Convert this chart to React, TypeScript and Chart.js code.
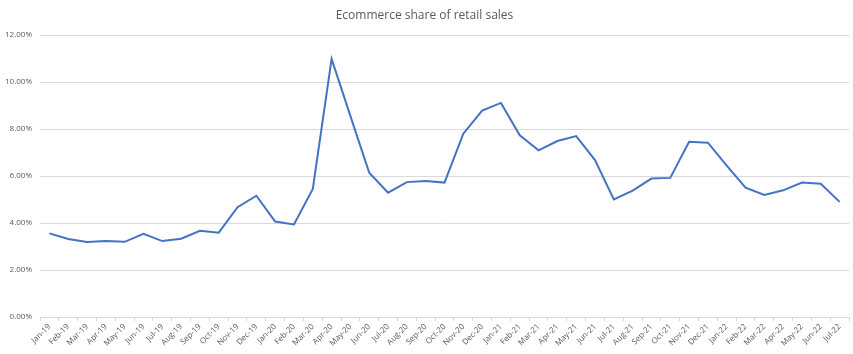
import React, { useEffect, useRef } from "react";
import { Chart, registerables } from "chart.js";

Chart.register(...registerables);

const months: string[] = [
  "Jan-19","Feb-19","Mar-19","Apr-19","May-19","Jun-19","Jul-19","Aug-19","Sep-19","Oct-19","Nov-19","Dec-19",
  "Jan-20","Feb-20","Mar-20","Apr-20","May-20","Jun-20","Jul-20","Aug-20","Sep-20","Oct-20","Nov-20","Dec-20",
  "Jan-21","Feb-21","Mar-21","Apr-21","May-21","Jun-21","Jul-21","Aug-21","Sep-21","Oct-21","Nov-21","Dec-21",
  "Jan-22","Feb-22","Mar-22","Apr-22","May-22","Jun-22","Jul-22",
];

const sharePct: number[] = [
  3.56, 3.32, 3.19, 3.23, 3.2, 3.54, 3.23, 3.33, 3.67, 3.59, 4.67, 5.16,
  4.06, 3.94, 5.45, 10.98, 8.55, 6.14, 5.29, 5.74, 5.79, 5.72, 7.8, 8.78,
  9.11, 7.73, 7.09, 7.49, 7.7, 6.68, 5.0, 5.38, 5.89, 5.92, 7.46, 7.42,
  6.44, 5.5, 5.19, 5.39, 5.72, 5.67, 4.9,
];

const titleText = "Ecommerce share of retail sales";

export default function App() {
  const ref = useRef<HTMLCanvasElement | null>(null);
  useEffect(() => {
    if (!ref.current) return;
    const font = "'Open Sans', 'Noto Sans', sans-serif";
    const chart = new Chart(ref.current, {
      type: "line",
      data: {
        labels: months,
        datasets: [
          {
            data: sharePct,
            borderColor: "#4472C4",
            borderWidth: 2,
            pointRadius: 0,
            tension: 0,
            fill: false,
          },
        ],
      },
      options: {
        animation: false,
        responsive: false,
        maintainAspectRatio: false,
        layout: { padding: { left: 0, right: 4, top: 0, bottom: 0 } },
        plugins: {
          legend: { display: false },
          tooltip: { enabled: false },
          title: {
            display: true,
            text: titleText,
            color: "#595959",
            font: { family: font, size: 12, weight: "normal" },
            padding: { top: 8, bottom: 12.6 },
          },
        },
        scales: {
          x: {
            offset: true,
            grid: {
              display: true,
              drawOnChartArea: false,
              drawTicks: true,
              tickLength: 4,
              color: "#d9d9d9",
              offset: true,
            },
            border: { display: true, color: "#d9d9d9" },
            ticks: {
              autoSkip: false,
              maxRotation: 45,
              minRotation: 45,
              color: "#595959",
              font: { family: font, size: 8 },
              padding: 1,
            },
            afterFit: (s: any) => { s.height = 37; },
          },
          y: {
            min: 0,
            max: 12,
            grid: { color: "#d9d9d9", drawTicks: false },
            border: { display: false },
            ticks: {
              stepSize: 2,
              color: "#595959",
              font: { family: font, size: 8 },
              padding: 8,
              callback: (v: any) => Number(v).toFixed(2) + "%",
            },
            afterFit: (s: any) => { s.width = 40; },
          },
        },
      },
    });
    return () => chart.destroy();
  }, []);
  return (
    <div style={{ position: "fixed", left: 0, top: 0, width: 853, height: 354, background: "#fff" }}>
      <canvas ref={ref} width={853} height={354} style={{ width: 853, height: 354 }} />
    </div>
  );
}
